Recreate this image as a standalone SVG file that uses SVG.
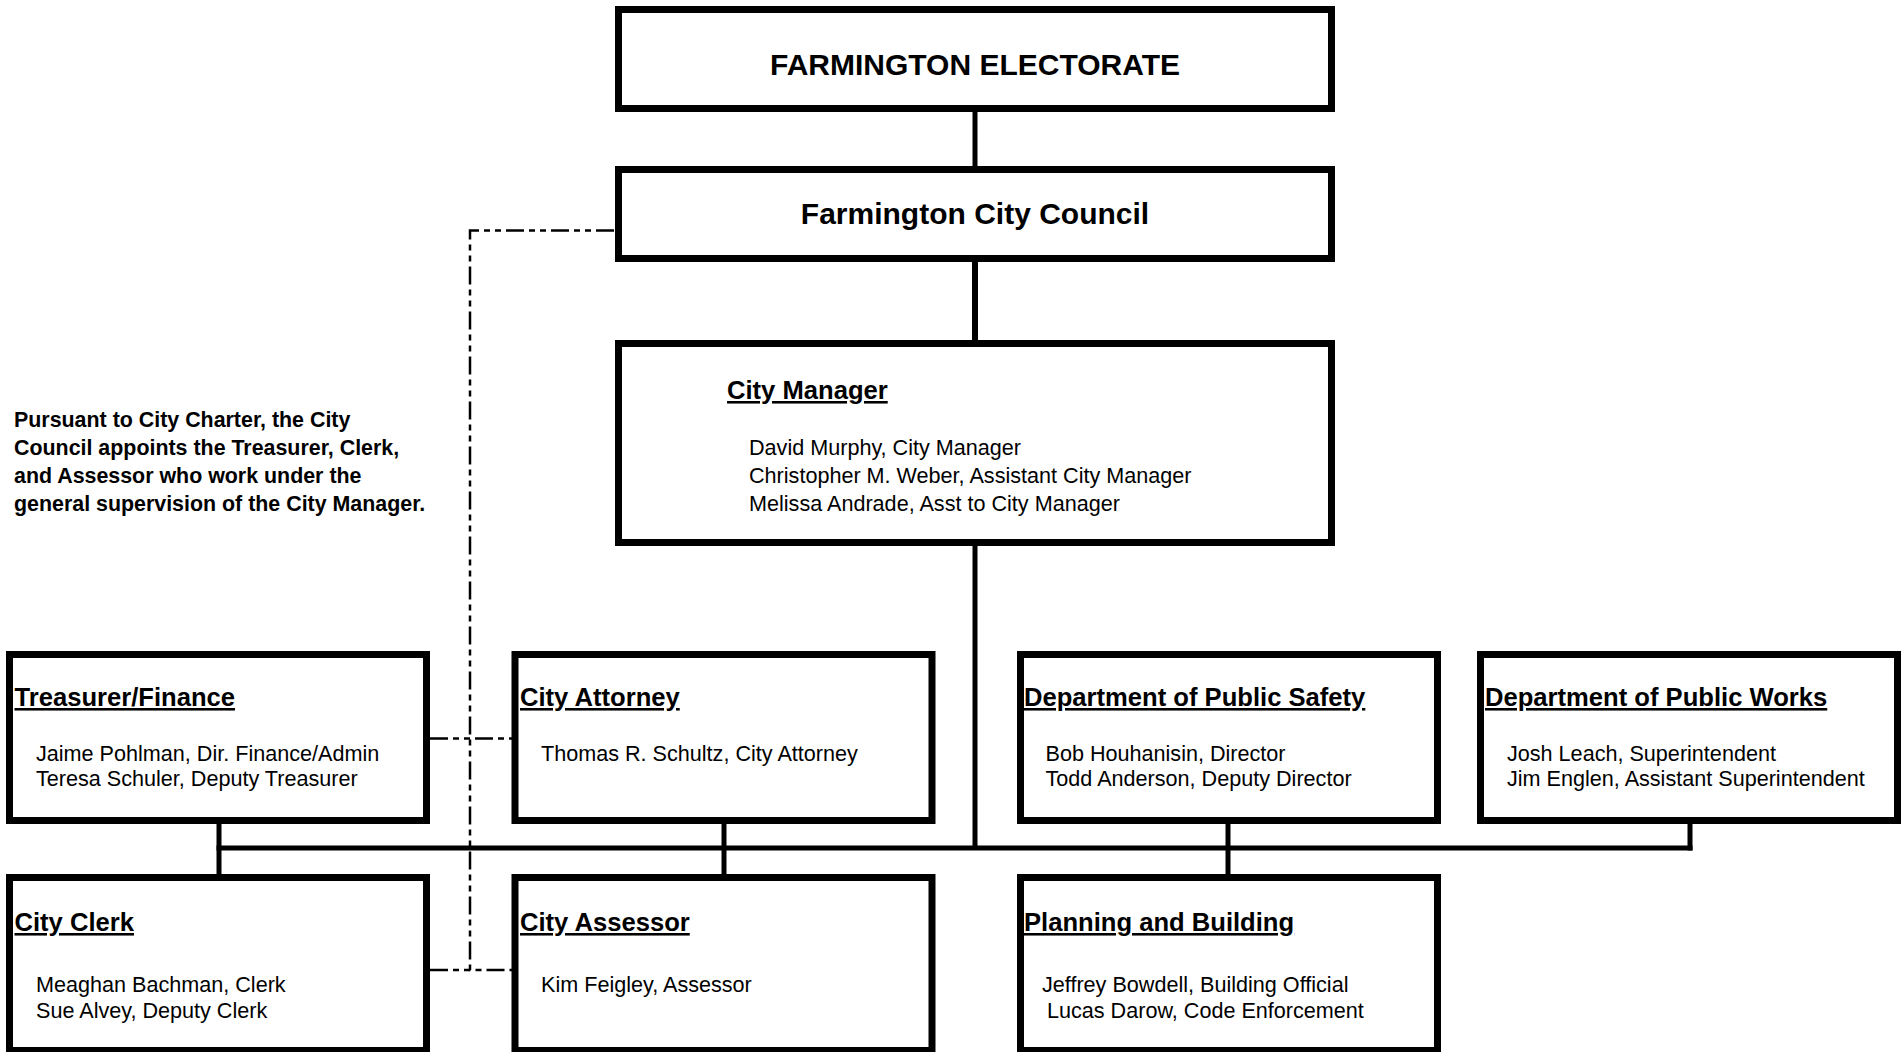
<svg xmlns="http://www.w3.org/2000/svg" width="1904" height="1052" viewBox="0 0 1904 1052">
<style>
.box{fill:#fff;stroke:#000;stroke-width:7}
.big{font-family:"Liberation Sans",Arial,sans-serif;font-weight:bold;font-size:30px;fill:#000;text-anchor:middle}
.hd{font-family:"Liberation Sans",Arial,sans-serif;font-weight:bold;font-size:25.6px;fill:#000;text-decoration:underline}
.bd{font-family:"Liberation Sans",Arial,sans-serif;font-size:21.6px;fill:#000}
.note{font-family:"Liberation Sans",Arial,sans-serif;font-weight:bold;font-size:21.4px;fill:#000}
.ln{stroke:#000;stroke-width:5;fill:none}
.dash{stroke:#000;stroke-width:2.5;fill:none;stroke-dasharray:18 5 6 5 6 5}
</style>
<rect width="1904" height="1052" fill="#fff"/>
<g id="connectors">
<line class="ln" x1="975" y1="112" x2="975" y2="166"/>
<line class="ln" x1="975" y1="260" x2="975" y2="340" style="stroke-width:6"/>
<line class="ln" x1="975" y1="546" x2="975" y2="848"/>
<line class="ln" x1="216.5" y1="848" x2="1692.5" y2="848"/>
<line class="ln" x1="219" y1="824" x2="219" y2="874"/>
<line class="ln" x1="724" y1="824" x2="724" y2="874"/>
<line class="ln" x1="1228" y1="824" x2="1228" y2="874"/>
<line class="ln" x1="1690" y1="824" x2="1690" y2="850.5"/>
<polyline class="dash" points="614,230.5 470,230.5 470,970 512,970"/>
<line class="dash" x1="430" y1="738.5" x2="512" y2="738.5"/>
<line class="dash" x1="430" y1="970" x2="470" y2="970"/>
</g>
<g id="electorate">
<rect class="box" x="618.5" y="9.5" width="713" height="99"/>
<text class="big" x="975" y="75">FARMINGTON ELECTORATE</text>
</g>
<g id="council">
<rect class="box" x="618.5" y="169.5" width="713" height="89"/>
<text class="big" x="975" y="224">Farmington City Council</text>
</g>
<g id="manager">
<rect class="box" x="618.5" y="343.5" width="713" height="199"/>
<text class="hd" x="727" y="399">City Manager</text>
<text class="bd" x="749" y="455">David Murphy, City Manager</text>
<text class="bd" x="749" y="483">Christopher M. Weber, Assistant City Manager</text>
<text class="bd" x="749" y="511">Melissa Andrade, Asst to City Manager</text>
</g>
<g id="note">
<text class="note" x="14" y="426.5">Pursuant to City Charter, the City</text>
<text class="note" x="14" y="454.5">Council appoints the Treasurer, Clerk,</text>
<text class="note" x="14" y="482.5">and Assessor who work under the</text>
<text class="note" x="14" y="510.5">general supervision of the City Manager.</text>
</g>
<g id="treasurer">
<rect class="box" x="9.5" y="654.5" width="417" height="166"/>
<text class="hd" x="14.5" y="706">Treasurer/Finance</text>
<text class="bd" x="36" y="761">Jaime Pohlman, Dir. Finance/Admin</text>
<text class="bd" x="36" y="786">Teresa Schuler, Deputy Treasurer</text>
</g>
<g id="attorney">
<rect class="box" x="515" y="654.5" width="417" height="166"/>
<text class="hd" x="520" y="706">City Attorney</text>
<text class="bd" x="541" y="761">Thomas R. Schultz, City Attorney</text>
</g>
<g id="safety">
<rect class="box" x="1020.5" y="654.5" width="417" height="166"/>
<text class="hd" x="1024" y="706">Department of Public Safety</text>
<text class="bd" x="1045.5" y="761">Bob Houhanisin, Director</text>
<text class="bd" x="1045.5" y="786">Todd Anderson, Deputy Director</text>
</g>
<g id="works">
<rect class="box" x="1480.5" y="654.5" width="417" height="166"/>
<text class="hd" x="1485" y="706">Department of Public Works</text>
<text class="bd" x="1507" y="761">Josh Leach, Superintendent</text>
<text class="bd" x="1507" y="786">Jim Englen, Assistant Superintendent</text>
</g>
<g id="clerk">
<rect class="box" x="9.5" y="877.5" width="417" height="173"/>
<text class="hd" x="14.5" y="931">City Clerk</text>
<text class="bd" x="36" y="991.5">Meaghan Bachman, Clerk</text>
<text class="bd" x="36" y="1018">Sue Alvey, Deputy Clerk</text>
</g>
<g id="assessor">
<rect class="box" x="515" y="877.5" width="417" height="173"/>
<text class="hd" x="520" y="931">City Assessor</text>
<text class="bd" x="541" y="991.5">Kim Feigley, Assessor</text>
</g>
<g id="planning">
<rect class="box" x="1020.5" y="877.5" width="417" height="173"/>
<text class="hd" x="1024" y="931">Planning and Building</text>
<text class="bd" x="1042" y="991.5">Jeffrey Bowdell, Building Official</text>
<text class="bd" x="1047" y="1018">Lucas Darow, Code Enforcement</text>
</g>
</svg>
